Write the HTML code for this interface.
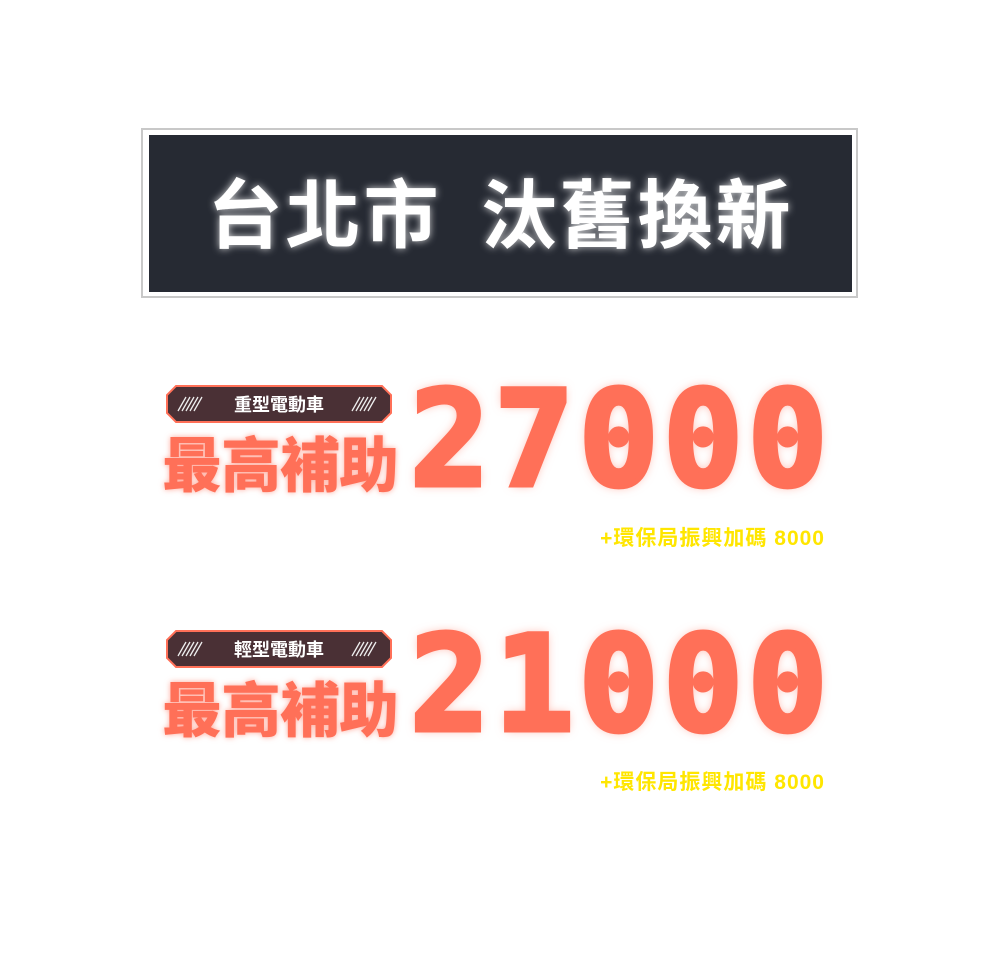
<!DOCTYPE html>
<html><head><meta charset="utf-8"><style>
body{margin:0;width:1000px;height:960px;background:#fff;position:relative;overflow:hidden;font-family:"Liberation Sans","Noto Sans CJK TC",sans-serif}
.a{position:absolute}
.frame{left:141px;top:128px;width:717px;height:170px;border:2px solid #c8c8c8;box-sizing:border-box}
.box{left:149px;top:135px;width:703px;height:157px;background:#262a33}
.title{left:149px;width:703px;top:160px;text-align:center;color:#fff;font-size:75px;font-weight:bold;line-height:100px;text-shadow:0 0 8px rgba(255,255,255,.8);font-family:"Noto Sans CJK TC",sans-serif;letter-spacing:3px}
.badge{width:226px;height:38px}
.bt{color:#fff;font-size:18px;font-weight:bold;width:226px;text-align:center;line-height:38px;font-family:"Noto Sans CJK TC",sans-serif}
.big{font-size:60px;font-weight:900;color:#ff7058;font-family:"Noto Sans CJK TC",sans-serif;line-height:70px;text-shadow:0 0 6px rgba(255,112,88,.6);letter-spacing:-1px}
.num{font-family:"DejaVu Sans Mono",monospace;font-weight:bold;color:#ff7058;font-size:132px;line-height:132px;letter-spacing:5px;-webkit-text-stroke:5px #ff7058;text-shadow:0 0 10px rgba(255,112,88,.6)}
.y{color:#ffe600;font-size:21px;font-weight:bold;right:175px;letter-spacing:1px;font-family:"Liberation Sans","Noto Sans CJK TC",sans-serif}
</style></head><body>
<div class="a frame"></div>
<div class="a box"></div>
<div class="a title">台北市&nbsp;&nbsp;汰舊換新</div>

<svg class="a badge" style="left:166px;top:385px" viewBox="0 0 226 38"><polygon points="10,1 216,1 225,10 225,28 216,37 10,37 1,28 1,10" fill="#4a3035" stroke="#ff7058" stroke-width="2"/><g stroke="#eee" stroke-width="1.3"><path d="M12,26l8,-14M16,26l8,-14M20,26l8,-14M24,26l8,-14M28,26l8,-14M186,26l8,-14M190,26l8,-14M194,26l8,-14M198,26l8,-14M202,26l8,-14"/></g></svg>
<div class="a bt" style="left:166px;top:385px">重型電動車</div>
<div class="a big" style="left:162px;top:427px">最高補助</div>
<div class="a num" style="left:410px;top:374px">27000</div>
<div class="a y" style="top:522px">+環保局振興加碼 8000</div>

<svg class="a badge" style="left:166px;top:630px" viewBox="0 0 226 38"><polygon points="10,1 216,1 225,10 225,28 216,37 10,37 1,28 1,10" fill="#4a3035" stroke="#ff7058" stroke-width="2"/><g stroke="#eee" stroke-width="1.3"><path d="M12,26l8,-14M16,26l8,-14M20,26l8,-14M24,26l8,-14M28,26l8,-14M186,26l8,-14M190,26l8,-14M194,26l8,-14M198,26l8,-14M202,26l8,-14"/></g></svg>
<div class="a bt" style="left:166px;top:630px">輕型電動車</div>
<div class="a big" style="left:162px;top:672px">最高補助</div>
<div class="a num" style="left:410px;top:619px">21000</div>
<div class="a y" style="top:766px">+環保局振興加碼 8000</div>
</body></html>
